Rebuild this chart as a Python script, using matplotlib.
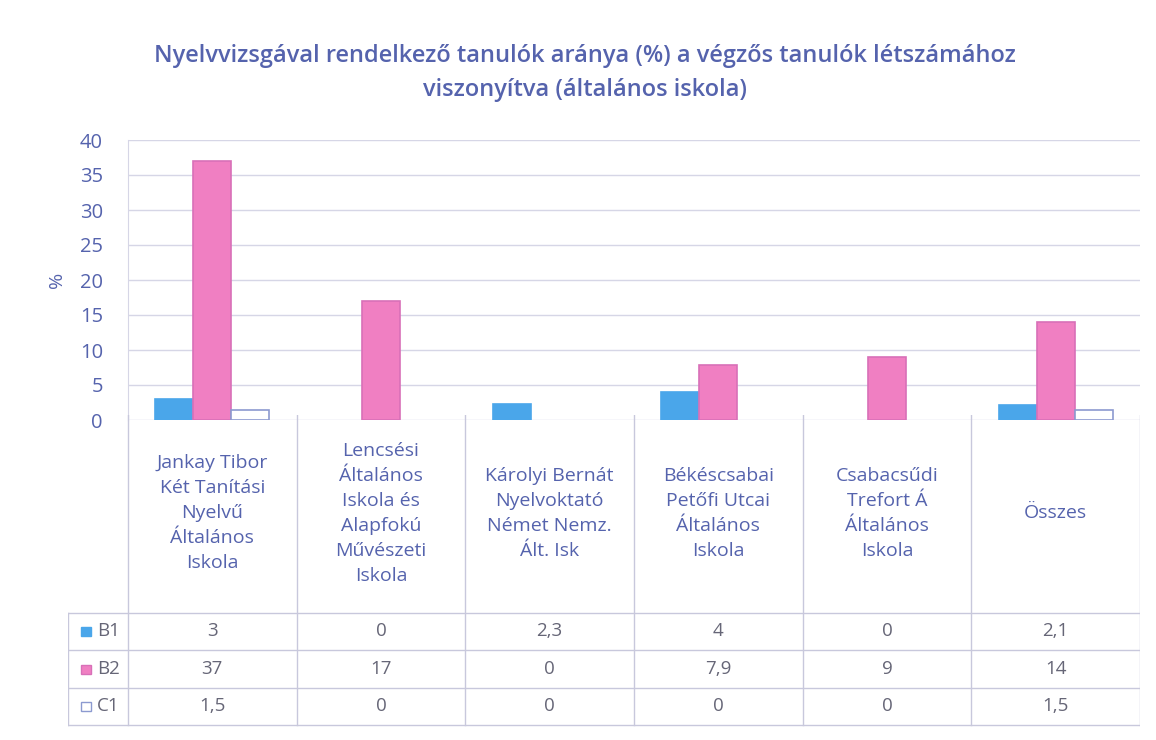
import matplotlib
matplotlib.use("Agg")
import matplotlib.pyplot as plt
import numpy as np

categories = [
    "Jankay Tibor\nKét Tanítási\nNyelvű\nÁltalános\nIskola",
    "Lencsési\nÁltalános\nIskola és\nAlapfokú\nMűvészeti\nIskola",
    "Károlyi Bernát\nNyelvoktató\nNémet Nemz.\nÁlt. Isk",
    "Békéscsabai\nPetőfi Utcai\nÁltalános\nIskola",
    "Csabacsűdi\nTrefort Á\nÁltalános\nIskola",
    "Összes",
]
series_names = ["B1", "B2", "C1"]
b1 = [3, 0, 2.3, 4, 0, 2.1]
b2 = [37, 17, 0, 7.9, 9, 14]
c1 = [1.5, 0, 0, 0, 0, 1.5]
table_labels = {
    "B1": ["3", "0", "2,3", "4", "0", "2,1"],
    "B2": ["37", "17", "0", "7,9", "9", "14"],
    "C1": ["1,5", "0", "0", "0", "0", "1,5"],
}
yticks = [0, 5, 10, 15, 20, 25, 30, 35, 40]
title = "Nyelvvizsgával rendelkező tanulók aránya (%) a végzős tanulók létszámához\nviszonyítva (általános iskola)"

plt.rcParams['font.family'] = ['Open Sans', 'DejaVu Sans']
txt = "#5563ad"
grid_c = "#d6d6e6"
colors = ["#4aa6ea", "#f07fc2", "#ffffff"]
edges = ["#4aa6ea", "#d870b8", "#8c9ad0"]

W, H = 1156, 740
fig = plt.figure(figsize=(W / 100, H / 100), dpi=100)
fig.patch.set_facecolor("white")

L, R, T, B = 128, 1140, 140, 420
ax = fig.add_axes([L / W, 1 - B / H, (R - L) / W, (B - T) / H])
n = len(categories)
x = np.arange(n)
bw = 0.225
for i, (vals, c, e) in enumerate(zip([b1, b2, c1], colors, edges)):
    lws = [1.2 if v > 0 else 0 for v in vals]
    ax.bar(x + (i - 1) * bw, vals, bw, color=c, edgecolor=e, linewidth=lws, zorder=3)
ax.set_xlim(-0.5, n - 0.5)
ax.set_ylim(0, 40)
ax.set_yticks(yticks)
ax.set_yticklabels([str(v) for v in yticks], fontsize=14.5, color=txt)
ax.tick_params(axis='y', length=0, pad=18)
ax.set_xticks([])
ax.yaxis.grid(True, color=grid_c, linewidth=1)
for s in ["top", "right", "bottom"]:
    ax.spines[s].set_visible(False)
ax.spines["left"].set_color(grid_c)
ax.set_ylabel("%", fontsize=14, color=txt, labelpad=10)

fig.text(585 / W, 1 - 73 / H, title, ha="center", va="center", fontsize=17,
         color=txt, fontweight="semibold", linespacing=1.55)

# data table
TL, TT, TB = 68, 415, 727
unit = (R - L) / n
tx = fig.add_axes([TL / W, 1 - TB / H, (R - TL) / W, (TB - TT) / H])
tx.set_xlim(-0.5 - (L - TL) / unit, n - 0.5)
tx.set_ylim(TB, TT)
tx.axis("off")
line_c = "#c8c8dc"
row_edges = [415, 613, 650, 688, 725]
for k in range(n + 1):
    tx.plot([k - 0.5, k - 0.5], [415, 725], color=line_c, lw=1)
lx = -0.5 - (L - TL) / unit
tx.plot([lx, lx], [613, 725], color=line_c, lw=1)
for yv in row_edges[1:]:
    tx.plot([lx, n - 0.5], [yv, yv], color=line_c, lw=1)

for k, cat in enumerate(categories):
    tx.text(k, 513, cat, ha="center", va="center", fontsize=14, color=txt,
            linespacing=1.5)

row_c = [631, 669, 706]
for r, name in enumerate(series_names):
    for k, lab in enumerate(table_labels[name]):
        tx.text(k, row_c[r], lab, ha="center", va="center", fontsize=13.5, color="#666677")
    kx = lx + 0.08
    tx.add_patch(plt.Rectangle((kx, row_c[r] - 4.5), 0.055, 9, facecolor=colors[r],
                               edgecolor=edges[r], lw=1))
    tx.text(kx + 0.09, row_c[r], name, ha="left", va="center", fontsize=13.5, color="#666677")

fig.savefig("out.png", dpi=100, facecolor="white")
